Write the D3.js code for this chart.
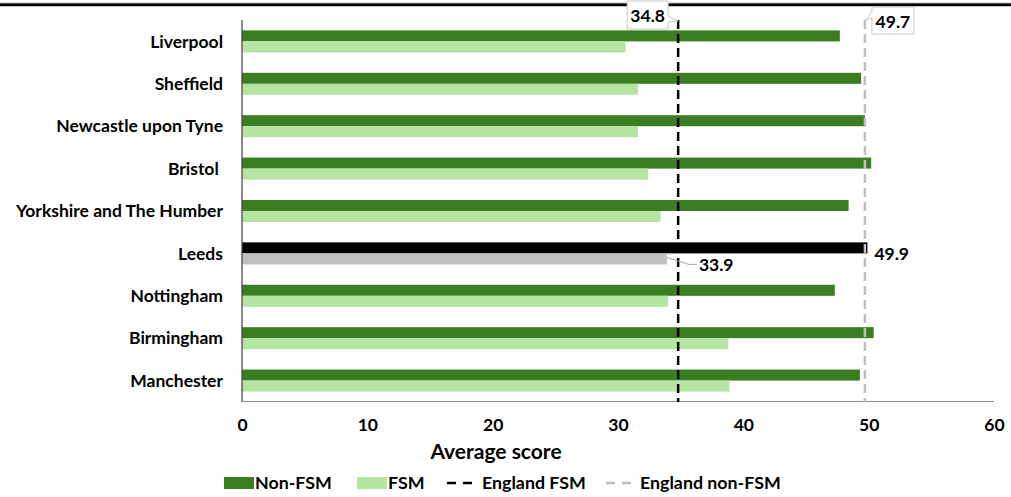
<!DOCTYPE html>
<html><head><meta charset="utf-8">
<script src="https://cdn.jsdelivr.net/npm/d3@7"></script>
<style>
html,body{margin:0;padding:0;background:#fff;}
svg{display:block;}
text{font-family:Lato,"Open Sans",sans-serif;font-weight:bold;fill:#000;white-space:pre;}
</style></head>
<body>
<svg id="chart" width="1011" height="497"></svg>
<script>
const categories = ["Liverpool","Sheffield","Newcastle upon Tyne","Bristol ","Yorkshire and The Humber","Leeds","Nottingham","Birmingham","Manchester"];
const nonFSM = [47.7, 49.4, 49.7, 50.2, 48.4, 49.9, 47.3, 50.4, 49.3];
const fsm    = [30.6, 31.6, 31.6, 32.4, 33.4, 33.9, 34.0, 38.8, 38.9];
const englandFSM = 34.8;
const englandNonFSM = 49.7;
const xTicks = [0,10,20,30,40,50,60];
const highlight = "Leeds";
const seriesNames = ["Non-FSM","FSM","England FSM","England non-FSM"];

const svg = d3.select("#chart");
const W = 1011, H = 497;
const C = {dark:"#3b7d23", light:"#b4e5a2", hiDark:"#000000", hiLight:"#bfbfbf", lineFSM:"#000000", lineNon:"#c0c0c0"};
const FS = 17.5;

// top border line
svg.append("rect").attr("x",0).attr("y",2.5).attr("width",W).attr("height",4.5).attr("fill","#c8c8c8");
svg.append("rect").attr("x",0).attr("y",3.4).attr("width",W).attr("height",2.6).attr("fill","#000");

const x = d3.scaleLinear().domain([0,60]).range([242,994]);
const y = d3.scaleBand().domain(categories).range([20,402]).paddingInner(0.48).paddingOuter(0.245);
const bh = y.bandwidth()/2;

const rows = categories.map((c,i)=>({c, a:nonFSM[i], b:fsm[i]}));

// bars
const g = svg.append("g");
g.selectAll("rect.nf").data(rows).join("rect")
  .attr("x",x(0)).attr("y",d=>y(d.c)).attr("width",d=>x(d.a)-x(0)).attr("height",bh)
  .attr("fill",d=>d.c===highlight?C.hiDark:C.dark);
g.selectAll("rect.f").data(rows).join("rect")
  .attr("x",x(0)).attr("y",d=>y(d.c)+bh).attr("width",d=>x(d.b)-x(0)).attr("height",bh)
  .attr("fill",d=>d.c===highlight?C.hiLight:C.light);

// axes
svg.append("line").attr("x1",x(0)).attr("x2",x(0)).attr("y1",20).attr("y2",402).attr("stroke","#404040").attr("stroke-width",1.2);
svg.append("line").attr("x1",x(0)).attr("x2",x(60)).attr("y1",401.5).attr("y2",401.5).attr("stroke","#8c8c8c").attr("stroke-width",1.2);

const xAxis = d3.axisBottom(x).tickValues(xTicks).tickSize(0).tickPadding(0).tickFormat(d3.format("d"));
const xa = svg.append("g").attr("transform","translate(0,431)").call(xAxis);
xa.select(".domain").remove();
xa.selectAll("text").attr("dy",0).attr("font-size",17.5).style("font-family","Lato").style("font-weight","bold");

const yAxis = d3.axisLeft(y).tickSize(0).tickPadding(0);
const ya = svg.append("g").attr("transform","translate(223,0)").call(yAxis);
ya.select(".domain").remove();
ya.selectAll("text").attr("x",0).attr("dy","0.35em").attr("font-size",FS).style("font-family","Lato").style("font-weight","bold").style("white-space","pre");

svg.append("text").attr("x",496).attr("y",459).attr("text-anchor","middle").attr("font-size",21).text("Average score");

// reference lines
svg.append("line").attr("x1",x(englandFSM)).attr("x2",x(englandFSM)).attr("y1",20).attr("y2",402)
  .attr("stroke",C.lineFSM).attr("stroke-width",2.5).attr("stroke-dasharray","9,5");
svg.append("line").attr("x1",x(englandNonFSM)).attr("x2",x(englandNonFSM)).attr("y1",20).attr("y2",402)
  .attr("stroke",C.lineNon).attr("stroke-width",2.5).attr("stroke-dasharray","9,5");

// callout for England FSM
{
  const px = x(englandFSM), py = 21;
  const r = px-10, l = r-41, t = 1, b = 29;
  svg.append("path").attr("d",`M${l},${t}H${r}V${py-5}L${px},${py}L${r},${py+1}V${b}H${l}Z`)
    .attr("fill","#fff").attr("stroke","#c8c8c8").attr("stroke-width",1);
  svg.append("text").attr("x",(l+r)/2).attr("y",22).attr("text-anchor","middle").attr("font-size",FS).text(englandFSM.toFixed(1));
}
{
  const px = x(englandNonFSM), py = 20;
  const l = px+7, r = l+42, t = 7, b = 34;
  svg.append("path").attr("d",`M${l},${t}H${r}V${b}H${l}V${t+11}L${px+1},${py}L${l},${t+4}Z`)
    .attr("fill","#fff").attr("stroke","#c8c8c8").attr("stroke-width",1);
  svg.append("text").attr("x",(l+r)/2).attr("y",28).attr("text-anchor","middle").attr("font-size",FS).text(englandNonFSM.toFixed(1));
}

// Leeds labels
{
  const i = categories.indexOf(highlight);
  const yy = y(highlight);
  svg.append("text").attr("x",x(nonFSM[i])+7).attr("y",yy+bh).attr("dy","0.35em").attr("font-size",FS).text(nonFSM[i].toFixed(1));
  const ex = x(fsm[i]), ey = yy+bh+4;
  svg.append("path").attr("d",`M${ex},${ey}L${ex+22},${ey+7}H${ex+30}`).attr("fill","none").attr("stroke","#a6a6a6").attr("stroke-width",1);
  svg.append("text").attr("x",ex+32).attr("y",ey+7).attr("dy","0.35em").attr("font-size",FS).text(fsm[i].toFixed(1));
}

// legend
{
  const ly = 483, lf = 17.8;
  const lg = svg.append("g");
  lg.append("rect").attr("x",224).attr("y",ly-6).attr("width",30).attr("height",12).attr("fill",C.dark);
  lg.append("text").attr("x",255).attr("y",ly).attr("dy","0.35em").attr("font-size",lf).text(seriesNames[0]);
  lg.append("rect").attr("x",357).attr("y",ly-6).attr("width",30).attr("height",12).attr("fill",C.light);
  lg.append("text").attr("x",388).attr("y",ly).attr("dy","0.35em").attr("font-size",lf).text(seriesNames[1]);
  lg.append("line").attr("x1",447).attr("x2",477).attr("y1",ly).attr("y2",ly).attr("stroke",C.lineFSM).attr("stroke-width",2.5).attr("stroke-dasharray","9,7");
  lg.append("text").attr("x",482).attr("y",ly).attr("dy","0.35em").attr("font-size",lf).text(seriesNames[2]);
  lg.append("line").attr("x1",606).attr("x2",636).attr("y1",ly).attr("y2",ly).attr("stroke",C.lineNon).attr("stroke-width",2.5).attr("stroke-dasharray","9,7");
  lg.append("text").attr("x",640).attr("y",ly).attr("dy","0.35em").attr("font-size",lf).text(seriesNames[3]);
}
</script>
</body></html>
